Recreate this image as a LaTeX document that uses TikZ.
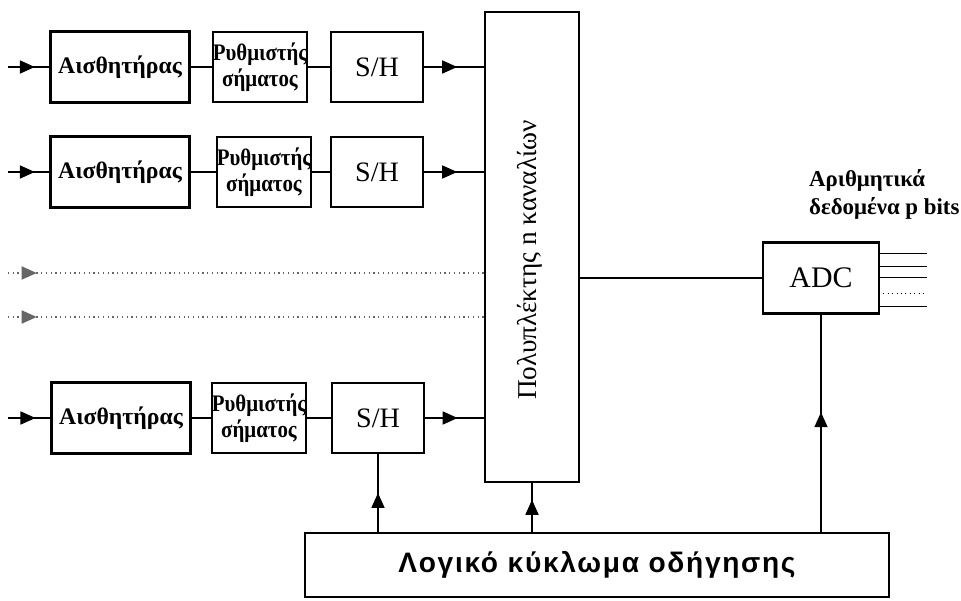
\documentclass[tikz,border=0pt]{standalone}
\usepackage{fontspec}
\setmainfont{Liberation Serif}
\newfontfamily\narrowserif[FakeStretch=0.88]{Liberation Serif}
\newfontfamily\spacedsans[LetterSpace=6]{Liberation Sans}
\usetikzlibrary{arrows.meta,decorations.markings}

\tikzset{
	wire/.style={line width=0.6pt},
	dotwire/.style={line width=0.7pt, dotted, color=black!60},
	midarrow/.style={postaction={decorate}, decoration={markings,
		mark=at position #1 with {\arrow{Triangle[length=8.5pt,width=7.5pt]}}}},
	thickbox/.style={draw, line width=1.5pt, inner sep=0pt, outer sep=0pt},
	thinbox/.style={draw, line width=1.1pt, inner sep=0pt, outer sep=0pt},
	sensorbox/.style={thickbox, minimum width=2.78cm, minimum height=1.42cm,
		font=\bfseries\fontsize{13.5}{16}\selectfont},
	regbox/.style={thinbox, minimum width=1.84cm, minimum height=1.40cm, align=center,
		font=\narrowserif\bfseries\fontsize{13.5}{14.7}\selectfont},
	shbox/.style={thinbox, minimum width=1.84cm, minimum height=1.40cm,
		font=\fontsize{16}{18}\selectfont},
}

\begin{document}
\begin{tikzpicture}[x=0.02cm, y=-0.02cm]
	\useasboundingbox (0,0) rectangle (961,601);
	% channels
	\node[sensorbox] (sens1) at (120,67) {Αισθητήρας};
	\node[regbox] (reg1) at (260,67) {Ρυθμιστής\\σήματος};
	\node[shbox] (sh1) at (377,67) {S/H};
	\node[sensorbox] (sens2) at (120,172) {Αισθητήρας};
	\node[regbox] (reg2) at (264,172) {Ρυθμιστής\\σήματος};
	\node[shbox] (sh2) at (377,172) {S/H};
	\node[sensorbox] (sens3) at (121,418) {Αισθητήρας};
	\node[regbox] (reg3) at (259,418) {Ρυθμιστής\\σήματος};
	\node[shbox] (sh3) at (378,418) {S/H};
	% multiplexer, converter, control
	\node[thickbox, minimum width=1.88cm, minimum height=9.40cm] (mux) at (532,247) {};
	\node[rotate=90, font=\fontsize{15.5}{17}\selectfont] (muxtext) at (530,260) {Πολυπλέκτης n καναλίων};
	\node[thickbox, minimum width=2.32cm, minimum height=1.42cm,
		font=\fontsize{17}{19}\selectfont] (adc) at (821,278) {ADC};
	\node[thickbox, minimum width=11.68cm, minimum height=1.28cm,
		font=\spacedsans\bfseries\fontsize{16}{18}\selectfont] (logic) at (597,565) {Λογικό κύκλωμα οδήγησης};
	\node[anchor=west, align=left, font=\bfseries\fontsize{13}{15.9}\selectfont] (outlbl) at (803,194) {Αριθμητικά\\δεδομένα p bits};

	% inputs
	\coordinate (in1) at (8,67);
	\coordinate (in2) at (8,172);
	\coordinate (in3) at (8,418);
	\coordinate (dots1) at (8,273);
	\coordinate (dots2) at (8,317);
	\draw[wire, midarrow=0.63] (in1) -- (sens1);
	\draw[wire, midarrow=0.63] (in2) -- (sens2);
	\draw[wire, midarrow=0.63] (in3) -- (sens3);
	\draw[dotwire, midarrow=0.06] (dots1) -- (dots1 -| mux.west);
	\draw[dotwire, midarrow=0.06] (dots2) -- (dots2 -| mux.west);

	% chains
	\draw[wire] (sens1) -- (reg1);
	\draw[wire] (reg1) -- (sh1);
	\draw[wire, midarrow=0.55] (sh1) -- (sh1 -| mux.west);
	\draw[wire] (sens2) -- (reg2);
	\draw[wire] (reg2) -- (sh2);
	\draw[wire, midarrow=0.55] (sh2) -- (sh2 -| mux.west);
	\draw[wire] (sens3) -- (reg3);
	\draw[wire] (reg3) -- (sh3);
	\draw[wire, midarrow=0.55] (sh3) -- (sh3 -| mux.west);
	\draw[wire] (adc.west -| mux.east) -- (adc.west);

	% control lines
	\draw[wire, midarrow=0.5] (logic.north -| sh3.south) -- (sh3.south);
	\draw[wire, midarrow=0.65] (logic.north -| mux.south) -- (mux.south);
	\draw[wire, midarrow=0.55] (logic.north -| adc.south) -- (adc.south);

	% data outputs
	\foreach \i/\yy/\sty in {1/253/solid, 2/266/solid, 3/277/solid, 4/293/dotted, 5/306/solid} {
		\coordinate (out\i) at (927,\yy);
		\draw[line width=0.5pt, \sty] (adc.east |- out\i) -- (out\i);
	}
\end{tikzpicture}
\end{document}
